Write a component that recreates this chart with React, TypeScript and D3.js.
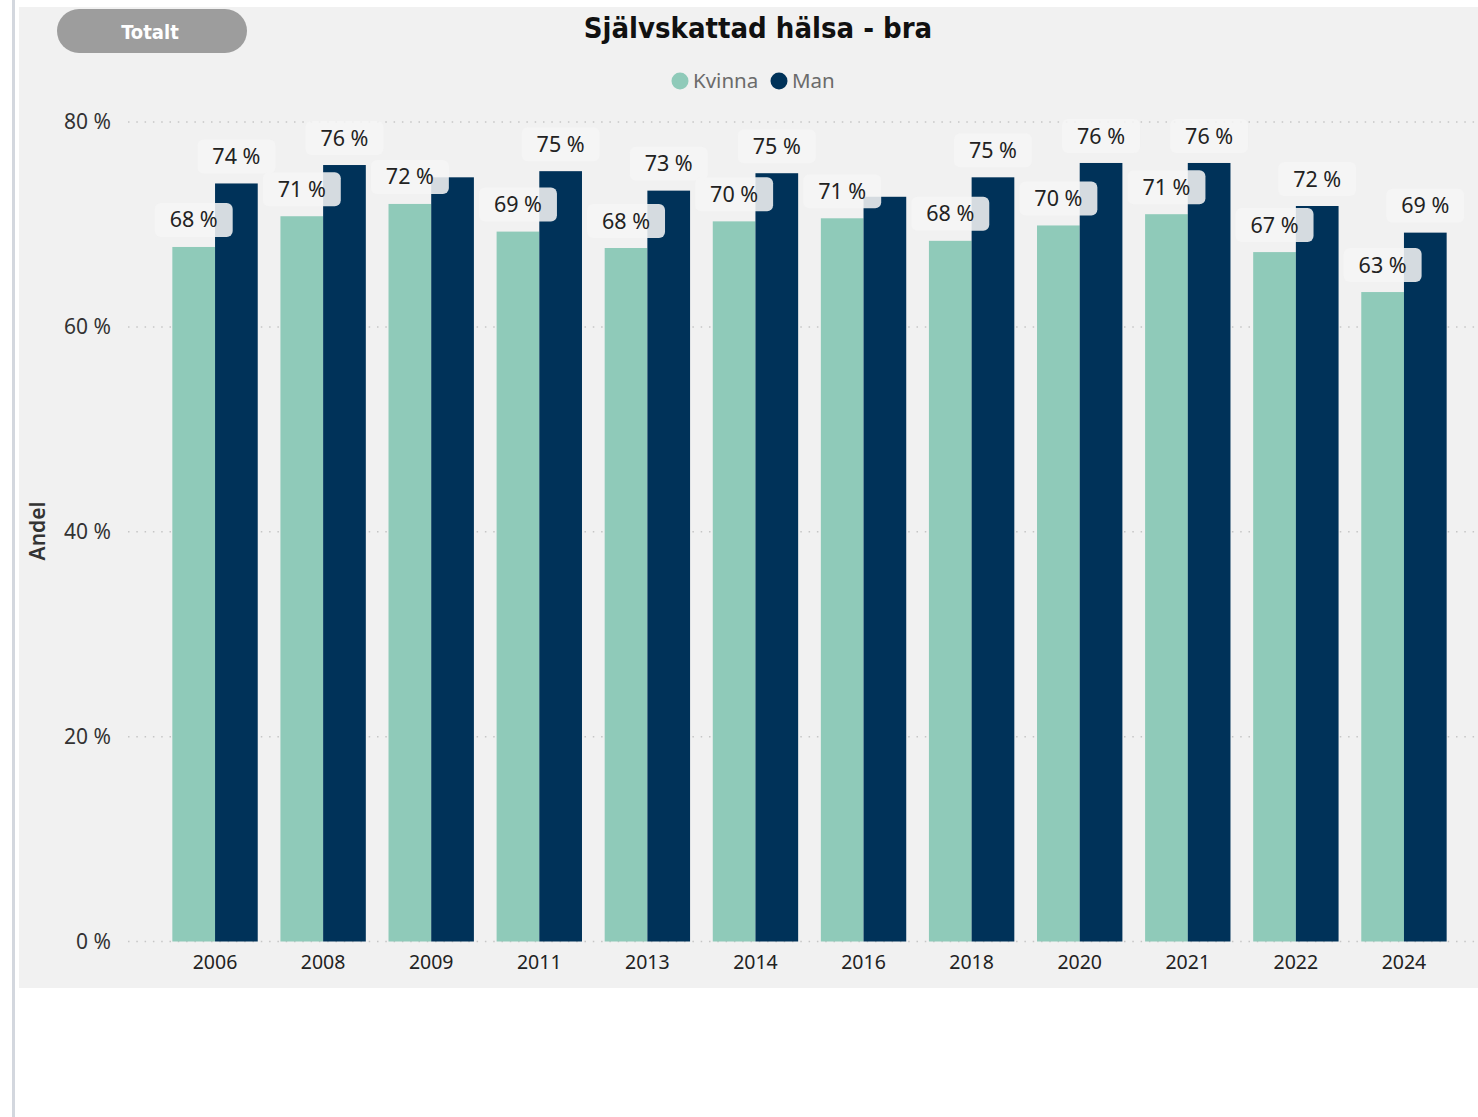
import React, { useEffect, useRef } from "react";
import * as d3 from "d3";

const years = ["2006", "2008", "2009", "2011", "2013", "2014", "2016", "2018", "2020", "2021", "2022", "2024"];
const kvinna = [67.8, 70.8, 72.0, 69.3, 67.7, 70.3, 70.6, 68.4, 69.9, 71.0, 67.3, 63.4];
const man = [74.0, 75.8, 74.6, 75.2, 73.3, 75.0, 72.7, 74.6, 76.0, 76.0, 71.8, 69.2];
// data labels Power BI hid because they collided
const hiddenManLabels = ["2009", "2016"];
const yTicks = [0, 20, 40, 60, 80];
const seriesNames = ["Kvinna", "Man"];
const colors = ["#8fcab9", "#003259"];

const W = 1478;
const H = 1117;

const App = () => {
  const ref = useRef<SVGSVGElement>(null);

  useEffect(() => {
    const svg = d3.select(ref.current);
    svg.selectAll("*").remove();

    const font = "'Noto Sans', 'Open Sans', sans-serif";

    // page decorations
    svg.append("rect").attr("x", 0).attr("y", 0).attr("width", W).attr("height", H).attr("fill", "#fff");
    svg.append("rect").attr("x", 12).attr("y", 0).attr("width", 3).attr("height", H).attr("fill", "#d3d7de");
    svg.append("rect").attr("x", 19).attr("y", 7).attr("width", W - 19).attr("height", 981).attr("fill", "#f1f1f1");

    // Totalt button
    svg.append("rect")
      .attr("x", 57).attr("y", 9).attr("width", 190).attr("height", 44).attr("rx", 22)
      .attr("fill", "#9d9d9d");
    svg.append("text")
      .attr("x", 150).attr("y", 39).attr("text-anchor", "middle")
      .attr("font-family", "'DejaVu Sans Condensed', sans-serif").attr("font-weight", "bold")
      .attr("font-size", 20).attr("fill", "#fff").text("Totalt");

    // title
    svg.append("text")
      .attr("x", 758).attr("y", 38).attr("text-anchor", "middle")
      .attr("font-family", "'DejaVu Sans Condensed', sans-serif").attr("font-weight", 600)
      .attr("font-size", 29).attr("fill", "#111").text("Självskattad hälsa - bra");

    // legend
    const legendX = [680, 779];
    seriesNames.forEach((name, i) => {
      svg.append("circle").attr("cx", legendX[i]).attr("cy", 81).attr("r", 8.5).attr("fill", colors[i]);
      svg.append("text")
        .attr("x", legendX[i] + 13).attr("y", 88)
        .attr("font-family", font).attr("font-size", 20.5).attr("fill", "#6b6b6b").text(name);
    });

    const x = d3.scaleBand().domain(years).range([161, 1458]).paddingInner(0.21).paddingOuter(0.105);
    const x1 = d3.scaleBand().domain(seriesNames).range([0, x.bandwidth()]);
    const y = d3.scaleLinear().domain([0, 80]).range([941.5, 122]);

    // gridlines + y tick labels
    const grid = svg.append("g");
    grid.selectAll("line").data(yTicks).join("line")
      .attr("x1", 128).attr("x2", 1478)
      .attr("y1", (d) => y(d)).attr("y2", (d) => y(d))
      .attr("stroke", "#c6c6c6").attr("stroke-width", 1.5).attr("stroke-dasharray", "1.5,6.8");
    grid.selectAll("text").data(yTicks).join("text")
      .attr("x", 111).attr("y", (d) => y(d)).attr("dy", "0.35em")
      .attr("text-anchor", "end").attr("font-family", font).attr("font-size", 21).attr("fill", "#333")
      .text((d) => `${d} %`);

    svg.append("text")
      .attr("transform", `translate(45, 531) rotate(-90)`)
      .attr("text-anchor", "middle").attr("font-family", font).attr("font-weight", 600)
      .attr("font-size", 21).attr("fill", "#333").text("Andel");

    const rows = years.map((yr, i) => ({ year: yr, values: [kvinna[i], man[i]] }));

    // bars
    const groups = svg.append("g").selectAll("g").data(rows).join("g")
      .attr("transform", (d) => `translate(${x(d.year)},0)`);
    groups.selectAll("rect")
      .data((d) => d.values.map((v, i) => ({ v, s: seriesNames[i], i })))
      .join("rect")
      .attr("x", (d) => x1(d.s)!)
      .attr("width", x1.bandwidth())
      .attr("y", (d) => y(d.v))
      .attr("height", (d) => y(0) - y(d.v))
      .attr("fill", (d) => colors[d.i]);

    // x axis labels
    svg.append("g").selectAll("text").data(years).join("text")
      .attr("x", (d) => x(d)! + x.bandwidth() / 2).attr("y", 969)
      .attr("text-anchor", "middle").attr("font-family", font).attr("font-size", 19.5).attr("fill", "#222")
      .text((d) => d);

    // data labels: Man first so Kvinna boxes sit on top of Man bars
    const labels = svg.append("g");
    [1, 0].forEach((si) => {
      rows.forEach((r) => {
        if (si === 1 && hiddenManLabels.includes(r.year)) return;
        const v = r.values[si];
        const cx = x(r.year)! + x1(seriesNames[si])! + x1.bandwidth() / 2;
        const top = y(v);
        labels.append("rect")
          .attr("x", cx - 39).attr("y", top - 44).attr("width", 78).attr("height", 34).attr("rx", 6)
          .attr("fill", "#f5f5f5").attr("fill-opacity", 0.87);
        labels.append("text")
          .attr("x", cx).attr("y", top - 27).attr("dy", "0.35em")
          .attr("text-anchor", "middle").attr("font-family", font).attr("font-size", 21.5).attr("fill", "#222")
          .text(`${Math.round(v)} %`);
      });
    });
  }, []);

  return (
    <div style={{ position: "absolute", left: 0, top: 0 }}>
      <svg ref={ref} width={W} height={H} style={{ display: "block" }}></svg>
    </div>
  );
};

export default App;
